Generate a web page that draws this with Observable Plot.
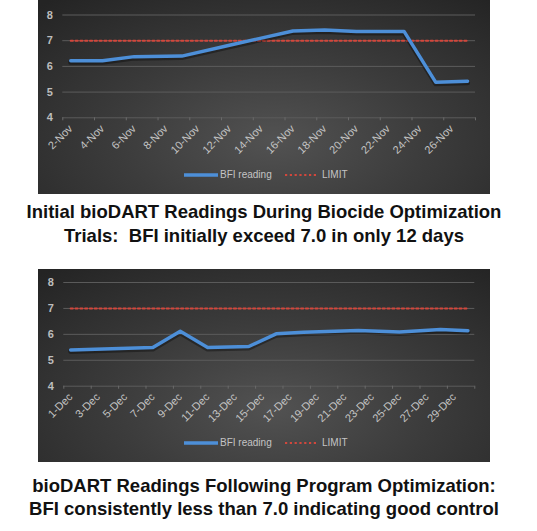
<!DOCTYPE html>
<html>
<head>
<meta charset="utf-8">
<script src="https://cdn.jsdelivr.net/npm/d3@7"></script>
<script src="https://cdn.jsdelivr.net/npm/@observablehq/plot@0.6"></script>
<style>
  html, body { margin: 0; padding: 0; background: #fff; }
  body { width: 537px; height: 531px; position: relative; overflow: hidden; font-family: "Liberation Sans", Arial, sans-serif; }
  .panel { position: absolute; left: 38px; width: 452px;
    background: radial-gradient(ellipse 75% 95% at 52% 72%, #525252 0%, #3c3c3c 45%, #242424 100%); }
  .panel svg.chart { position: absolute; left: 0; top: 0; }
  .legend { position: absolute; left: 0; width: 452px; height: 14px; font-size: 10px; color: #c4c4c4; }
  .legend span { position: absolute; top: 0; line-height: 14px; white-space: nowrap; }
  .legend svg { position: absolute; top: 0; }
  .caption { position: absolute; left: 0; width: 528px; text-align: center; white-space: pre;
    font-family: "Liberation Sans", Arial, sans-serif; font-weight: bold; font-size: 18.5px; line-height: 23.4px; color: #111; }
</style>
</head>
<body>
<script>
// ---------- data ----------
const LIMIT = 7.0;
const yTicks = [4, 5, 6, 7, 8];

const novDays = ["2-Nov", "4-Nov", "6-Nov", "9-Nov", "12-Nov", "14-Nov", "16-Nov", "18-Nov", "20-Nov", "23-Nov", "25-Nov", "27-Nov"];
const novBFI  = [6.22, 6.22, 6.38, 6.40, 6.82, 7.10, 7.38, 7.42, 7.36, 7.36, 5.38, 5.42];
const novLabels = ["2-Nov", "4-Nov", "6-Nov", "8-Nov", "10-Nov", "12-Nov", "14-Nov", "16-Nov", "18-Nov", "20-Nov", "22-Nov", "24-Nov", "26-Nov"];
const novFirstLast = ["1-Nov", "27-Nov"];

const decDays = ["1-Dec", "7-Dec", "9-Dec", "11-Dec", "14-Dec", "16-Dec", "18-Dec", "22-Dec", "25-Dec", "28-Dec", "30-Dec"];
const decBFI  = [5.40, 5.49, 6.12, 5.49, 5.53, 6.02, 6.08, 6.15, 6.09, 6.19, 6.14];
const decLabels = ["1-Dec", "3-Dec", "5-Dec", "7-Dec", "9-Dec", "11-Dec", "13-Dec", "15-Dec", "17-Dec", "19-Dec", "21-Dec", "23-Dec", "25-Dec", "27-Dec", "29-Dec"];
const decFirstLast = ["0-Dec", "30-Dec"];

const captions = [
  ["Initial bioDART Readings During Biocide Optimization", "Trials:  BFI initially exceed 7.0 in only 12 days"],
  ["bioDART Readings Following Program Optimization:", "BFI consistently less than 7.0 indicating good control"]
];
const legendNames = ["BFI reading", "LIMIT"];

// ---------- helpers ----------
const parse = d3.utcParse("%d-%b");
function parseDay(s) {
  if (s.startsWith("0-")) return d3.utcDay.offset(parse("1-" + s.slice(2)), -1);
  return parse(s);
}
const fmt = d3.utcFormat("%-d-%b");
const BLUE = "#4d8fd8";
const RED = "#d2473c";

function panel({top, height, mTop, mBottom, mLeft, mRight, days, values, labels, firstLast, legendTop}) {
  const div = document.createElement("div");
  div.className = "panel";
  div.style.top = top + "px";
  div.style.height = height + "px";

  const dates = days.map(parseDay);
  const rows = dates.map((d, i) => ({date: d, bfi: values[i]}));
  const limitRows = [{date: dates[0], v: LIMIT}, {date: dates[dates.length - 1], v: LIMIT}];
  const x0 = d3.utcHour.offset(parseDay(firstLast[0]), 12);
  const x1 = d3.utcHour.offset(parseDay(firstLast[1]), 12);
  const boundaries = d3.range(0, Math.round((x1 - x0) / 864e5) + 1, 2).map(k => d3.utcDay.offset(x0, k));
  const labelDates = labels.map(parseDay);

  const chart = Plot.plot({
    width: 452, height,
    marginTop: mTop, marginBottom: mBottom, marginLeft: mLeft, marginRight: mRight,
    style: {background: "transparent", overflow: "visible", fontFamily: "Liberation Sans, Arial, sans-serif"},
    x: {type: "utc", domain: [x0, x1], axis: null},
    y: {domain: [4, 8], axis: null},
    marks: [
      Plot.ruleY(yTicks, {stroke: "#5c5c5c", strokeWidth: 1}),
      Plot.axisX({ticks: boundaries, tickSize: 3, stroke: "#6a6a6a", tickFormat: () => ""}),
      Plot.axisX({ticks: labelDates, tickSize: 0, tickPadding: 9, tickRotate: -45, tickFormat: fmt,
        fontSize: 11, fill: "#c4c4c4", textAnchor: "end"}),
      Plot.axisY({ticks: yTicks, tickSize: 0, tickPadding: 10, tickFormat: d3.format("d"),
        fontSize: 11, fontWeight: "bold", fill: "#bdbdbd"}),
      Plot.line(limitRows, {x: "date", y: "v", stroke: RED, strokeWidth: 2, strokeDasharray: "2.2,2.6"}),
      Plot.line(rows, {x: "date", y: "bfi", stroke: "#000", strokeOpacity: 0.35, strokeWidth: 5, dy: 1.5, strokeLinejoin: "round"}),
      Plot.line(rows, {x: "date", y: "bfi", stroke: BLUE, strokeWidth: 3.5, strokeLinejoin: "round", strokeLinecap: "round"})
    ]
  });
  chart.classList.add("chart");
  div.appendChild(chart);

  // legend inside panel
  const lg = document.createElement("div");
  lg.className = "legend";
  lg.style.top = (legendTop - 7) + "px";
  lg.innerHTML =
    `<svg width="36" height="14" style="left:146px"><line x1="0" x2="34" y1="7" y2="7" stroke="${BLUE}" stroke-width="3.5"/></svg>` +
    `<span style="left:182px">${legendNames[0]}</span>` +
    `<svg width="34" height="14" style="left:247px"><line x1="0" x2="33" y1="7" y2="7" stroke="${RED}" stroke-width="2" stroke-dasharray="2.2,2.6"/></svg>` +
    `<span style="left:284px">${legendNames[1]}</span>`;
  div.appendChild(lg);
  document.body.appendChild(div);
}

function caption(top, lines) {
  const c = document.createElement("div");
  c.className = "caption";
  c.style.top = top + "px";
  c.textContent = lines.join("\n");
  document.body.appendChild(c);
}

panel({top: 0, height: 194, mTop: 14.5, mBottom: 76.7, mLeft: 24.3, mRight: 15,
  days: novDays, values: novBFI, labels: novLabels, firstLast: novFirstLast, legendTop: 175});
caption(200.2, captions[0]);
panel({top: 269.3, height: 192.7, mTop: 13, mBottom: 76, mLeft: 25.3, mRight: 15.7,
  days: decDays, values: decBFI, labels: decLabels, firstLast: decFirstLast, legendTop: 174});
caption(474, captions[1]);
</script>
</body>
</html>
